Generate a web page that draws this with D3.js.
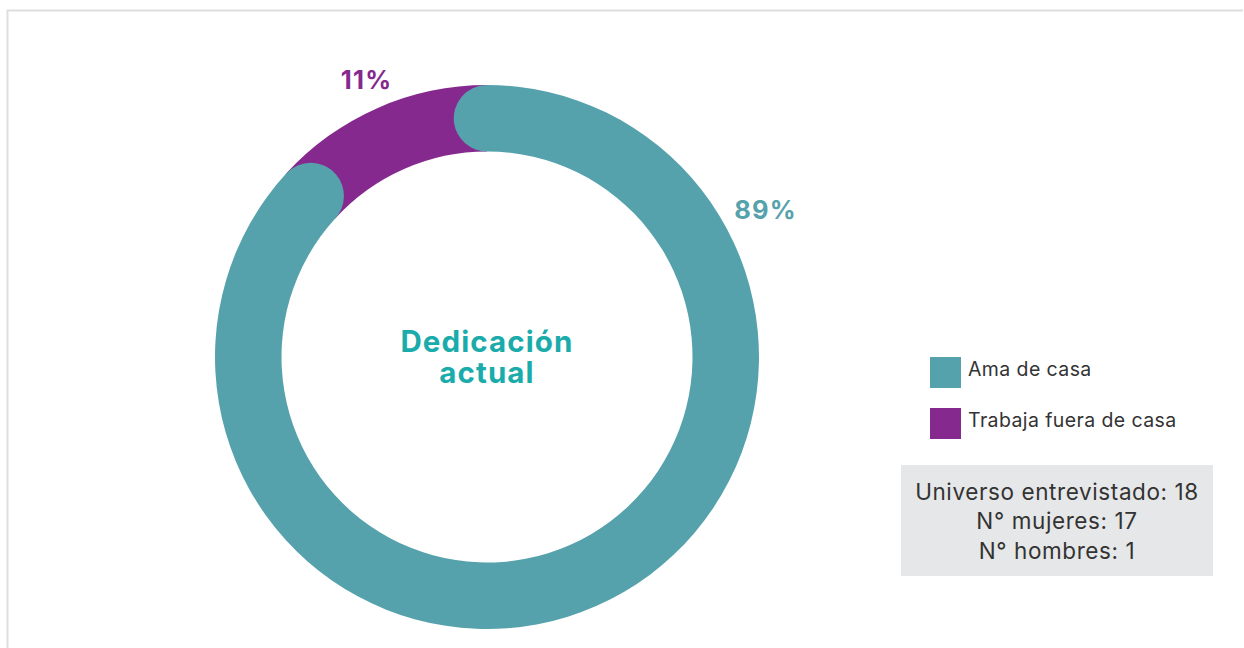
<!DOCTYPE html>
<html>
<head>
<meta charset="utf-8">
<script src="https://cdn.jsdelivr.net/npm/d3@7"></script>
<style>
  html, body { margin: 0; padding: 0; background: #fff; }
  svg { display: block; }
  text { font-family: Inter, "Open Sans", sans-serif; }
</style>
</head>
<body>
<svg id="chart" width="1244" height="648"></svg>
<script>
// Dedicación actual — share of respondents
const categories = ["Ama de casa", "Trabaja fuera de casa"];
const values = [89, 11];
const colors = ["#56a2ac", "#85298e"];
const labelText = ["89%", "11%"];
const title = ["Dedicación", "actual"];
const notes = ["Universo entrevistado: 18", "N° mujeres: 17", "N° hombres: 1"];

const svg = d3.select("#chart");
const W = 1244, H = 648;

// light frame on top and left
svg.append("path")
  .attr("d", `M7.5,${H} V10.5 H1243`)
  .attr("fill", "none")
  .attr("stroke", "#dedede")
  .attr("stroke-width", 2);

const cx = 487, cy = 357;
const outerR = 272, innerR = 205.5;
const midR = (outerR + innerR) / 2;
const thick = outerR - innerR;
const capAngle = Math.asin((thick / 2) / midR);

const total = d3.sum(values);
const angle = d3.scaleLinear().domain([0, total]).range([0, 2 * Math.PI]);

const g = svg.append("g").attr("transform", `translate(${cx},${cy})`);

const tealEnd = angle(values[0]);

// purple segment: flat arc under the teal rounded ends
const flatArc = d3.arc().innerRadius(innerR).outerRadius(outerR);
g.append("path")
  .attr("d", flatArc({ startAngle: tealEnd - capAngle, endAngle: angle(total) }))
  .attr("fill", colors[1]);

// teal segment with round caps; its start cap overlaps the purple one
const roundArc = d3.arc().innerRadius(innerR).outerRadius(outerR).cornerRadius(thick / 2);
g.append("path")
  .attr("d", roundArc({ startAngle: -capAngle, endAngle: tealEnd }))
  .attr("fill", colors[0]);

// percentage labels
const labelPos = [
  { x: 765.5, y: 218.5 },
  { x: 366.5, y: 88.5 }
];
labelText.forEach((t, i) => {
  svg.append("text")
    .attr("x", labelPos[i].x)
    .attr("y", labelPos[i].y)
    .attr("text-anchor", "middle")
    .attr("font-size", 25.5)
    .attr("font-weight", 700)
    .attr("letter-spacing", 1.2)
    .attr("fill", colors[i])
    .text(t);
});

// centre title, two lines in one text block
const titleText = svg.append("text")
  .attr("text-anchor", "middle")
  .attr("font-size", 29.5)
  .attr("font-weight", 700)
  .attr("letter-spacing", 1.1)
  .attr("fill", "#1aabab");
title.forEach((t, i) => {
  titleText.append("tspan")
    .attr("x", cx)
    .attr("y", 352 + i * 31)
    .text(t);
});

// legend
const legend = svg.append("g");
categories.forEach((c, i) => {
  const y0 = 357 + i * 51;
  legend.append("rect")
    .attr("x", 930).attr("y", y0)
    .attr("width", 31).attr("height", 31)
    .attr("fill", colors[i]);
  legend.append("text")
    .attr("x", 968).attr("y", y0 + 19)
    .attr("font-size", 19.5)
    .attr("letter-spacing", 0.4)
    .attr("fill", "#333")
    .text(c);
});

// sample note box
svg.append("rect")
  .attr("x", 901).attr("y", 465)
  .attr("width", 312).attr("height", 111)
  .attr("fill", "#e6e7e8");
const noteText = svg.append("text")
  .attr("text-anchor", "middle")
  .attr("font-size", 22.5)
  .attr("letter-spacing", 0.6)
  .attr("fill", "#333");
notes.forEach((t, i) => {
  noteText.append("tspan")
    .attr("x", 1057)
    .attr("y", 499.5 + i * 29.5)
    .text(t);
});
</script>
</body>
</html>
